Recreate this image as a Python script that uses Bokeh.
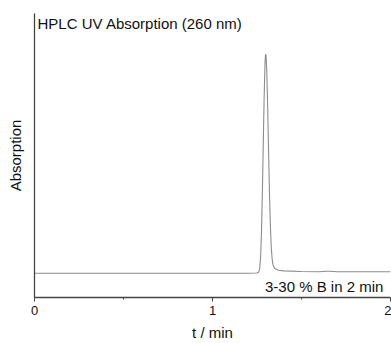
from bokeh.plotting import figure
from bokeh.models import Range1d, FixedTicker, Label
from bokeh.embed import file_html
from bokeh.resources import INLINE

# Chromatogram trace (time in min, relative absorption)
t_min = [0.0, 0.5, 1.0, 1.2, 1.25, 1.26, 1.265, 1.27, 1.275, 1.28, 1.285, 1.29, 1.295,
         1.298, 1.301, 1.305, 1.31, 1.315, 1.32, 1.325, 1.33, 1.335, 1.34, 1.35, 1.37,
         1.40, 1.5, 1.6, 1.64, 1.66, 1.7, 1.8, 2.0]
absorption = [0.0, 0.0, 0.0, 0.0, 0.001, 0.006, 0.02, 0.07, 0.18, 0.36, 0.58, 0.80, 0.96,
              1.0, 0.99, 0.92, 0.76, 0.56, 0.37, 0.22, 0.12, 0.065, 0.038, 0.022, 0.014,
              0.011, 0.008, 0.007, 0.009, 0.009, 0.007, 0.007, 0.007]

x_ticks = [0, 1, 2]
x_minor_ticks = [0.5, 1.5]
title_text = "HPLC UV Absorption (260 nm)"
gradient_text = "3-30 % B in 2 min"

FONT = "Liberation Sans"

p = figure(width=391, height=343, output_backend="svg", toolbar_location=None,
           x_range=Range1d(0, 2), y_range=Range1d(-0.1106, 1.185),
           min_border_left=34, min_border_right=1, min_border_top=13, min_border_bottom=43)

p.line(t_min, absorption, line_color="#8c8c8c", line_width=1.1)

p.outline_line_color = None
p.grid.grid_line_color = None
p.background_fill_color = "white"
p.border_fill_color = "white"

# x axis
xa = p.xaxis[0]
xa.ticker = FixedTicker(ticks=x_ticks, minor_ticks=x_minor_ticks)
xa.axis_line_color = "#444444"
xa.axis_line_width = 1.3
xa.major_tick_line_color = "#444444"
xa.minor_tick_line_color = "#444444"
xa.major_tick_in = 0
xa.major_tick_out = 4
xa.minor_tick_in = 0
xa.minor_tick_out = 2
xa.major_label_text_font = FONT
xa.major_label_text_font_size = "13px"
xa.major_label_text_color = "#111111"
xa.major_label_standoff = 4
xa.axis_label = "t / min"
xa.axis_label_text_font = FONT
xa.axis_label_text_font_size = "15px"
xa.axis_label_text_font_style = "normal"
xa.axis_label_text_color = "#111111"
xa.axis_label_standoff = 6

# y axis
ya = p.yaxis[0]
ya.ticker = FixedTicker(ticks=[])
ya.axis_line_color = "#444444"
ya.axis_line_width = 1.3
ya.major_tick_line_color = None
ya.minor_tick_line_color = None
ya.major_label_text_font_size = "0px"
ya.axis_label = "Absorption"
ya.axis_label_text_font = FONT
ya.axis_label_text_font_size = "15px"
ya.axis_label_text_font_style = "normal"
ya.axis_label_text_color = "#111111"
ya.axis_label_standoff = 11

p.add_layout(Label(x=0.017, y=1.185, text=title_text, text_font=FONT,
                   text_font_size="15px", text_color="#111111",
                   text_baseline="top", text_align="left", y_offset=-1))
p.add_layout(Label(x=1.96, y=-0.1, text=gradient_text, text_font=FONT,
                   text_font_size="15px", text_color="#111111",
                   text_baseline="bottom", text_align="right"))

open("out.html", "w").write(file_html(p, INLINE))
